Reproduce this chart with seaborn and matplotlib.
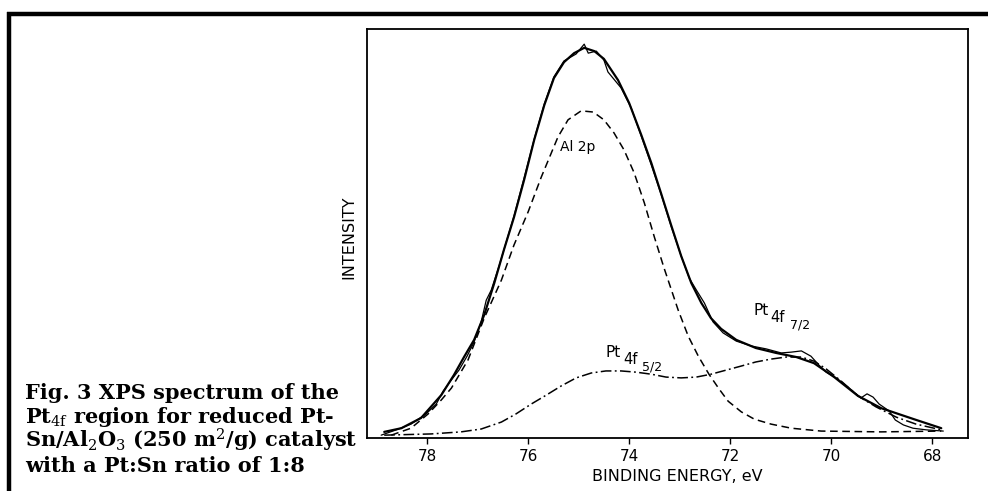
import numpy as np
import pandas as pd
import matplotlib
matplotlib.use("Agg")
import matplotlib.pyplot as plt
from matplotlib.lines import Line2D
import seaborn as sns

# ---------------- data (binding energy in eV, intensity in arbitrary units) ----------------
fit_energy = [78.85, 78.51, 78.12, 77.72, 77.47, 77.27, 77.07, 76.87, 76.67, 76.48, 76.28,
              76.08, 75.88, 75.68, 75.49, 75.29, 75.09, 74.89, 74.69, 74.50, 74.22, 74.00,
              73.76, 73.56, 73.37, 73.17, 72.97, 72.77, 72.57, 72.38, 72.18, 71.88, 71.49,
              71.09, 70.69, 70.34, 69.94, 69.47, 69.01, 68.36, 67.82]
fit_intensity = [1.5, 2.4, 4.9, 10.5, 15.4, 19.8, 24.0, 30.1, 37.9, 46.0, 54.0,
                 63.1, 72.9, 81.4, 88.0, 91.9, 94.1, 95.4, 94.6, 92.7, 87.5, 81.9,
                 74.1, 67.2, 59.9, 52.1, 44.5, 37.9, 33.0, 29.3, 26.7, 24.0, 22.0,
                 20.8, 19.8, 18.3, 14.9, 10.3, 7.3, 4.6, 2.4]

raw_energy = [78.91, 78.61, 78.32, 78.02, 77.82, 77.68, 77.52, 77.37, 77.21, 77.07, 76.93,
              76.83, 76.73, 76.57, 76.28, 76.08, 75.88, 75.68, 75.49, 75.29, 75.05, 74.89,
              74.81, 74.65, 74.50, 74.42, 74.32, 74.16, 73.96, 73.76, 73.56, 73.37, 73.17,
              72.97, 72.81, 72.67, 72.51, 72.34, 72.14, 71.88, 71.58, 71.29, 70.99, 70.79,
              70.59, 70.40, 70.24, 70.10, 69.90, 69.64, 69.41, 69.29, 69.17, 69.05, 68.85,
              68.73, 68.57, 68.38, 68.12, 67.78]
raw_intensity = [0.7, 2.0, 3.4, 5.9, 8.3, 11.5, 14.2, 16.6, 20.0, 23.5, 28.4,
                 33.7, 36.2, 42.3, 54.3, 63.6, 73.1, 81.7, 88.3, 92.2, 93.9, 96.3,
                 94.1, 94.6, 92.4, 89.5, 88.0, 85.6, 80.7, 73.8, 66.7, 59.7, 51.8,
                 44.5, 39.1, 36.2, 33.0, 28.4, 25.7, 23.7, 22.5, 21.8, 20.8, 21.0,
                 21.3, 20.0, 17.8, 16.1, 14.7, 12.2, 9.8, 10.8, 10.0, 8.3, 6.6,
                 4.4, 3.2, 2.4, 2.0, 1.7]

al2p_energy = [78.71, 78.32, 77.98, 77.72, 77.52, 77.19, 76.87, 76.53, 76.28, 76.00, 75.74,
               75.41, 75.21, 74.95, 74.71, 74.50, 74.30, 74.10, 73.90, 73.70, 73.50, 73.31,
               73.03, 72.83, 72.63, 72.42, 72.22, 72.04, 71.78, 71.52, 71.19, 70.79, 70.20,
               69.01, 67.82]
al2p_intensity = [0.7, 2.4, 5.9, 9.3, 12.2, 19.1, 29.3, 38.6, 47.2, 55.3, 63.8,
                  73.6, 77.8, 80.0, 79.7, 77.8, 74.6, 70.4, 64.8, 57.5, 49.1, 41.6,
                  31.3, 24.9, 20.0, 15.6, 12.0, 9.0, 6.4, 4.6, 3.4, 2.4, 1.7,
                  1.5, 1.7]

pt4f_energy = [78.85, 77.92, 77.33, 76.93, 76.53, 76.24, 75.94, 75.64, 75.35, 75.05, 74.75,
               74.46, 74.16, 73.86, 73.56, 73.27, 72.97, 72.67, 72.38, 72.08, 71.78, 71.49,
               71.19, 70.89, 70.59, 70.34, 70.10, 69.80, 69.47, 69.11, 68.71, 68.32, 67.82]
pt4f_intensity = [0.7, 1.0, 1.5, 2.2, 3.9, 5.9, 8.3, 10.5, 12.7, 14.7, 15.9,
                  16.4, 16.4, 16.1, 15.6, 14.9, 14.7, 14.9, 15.6, 16.6, 17.6, 18.6,
                  19.3, 19.8, 19.8, 18.8, 16.9, 13.9, 10.3, 7.6, 5.1, 3.4, 2.0]

energy_ticks = [78, 76, 74, 72, 70, 68]

caption_lines = [
    "Fig. 3 XPS spectrum of the",
    r"Pt$_{4\mathrm{f}}$ region for reduced Pt-",
    r"Sn/Al$_2$O$_3$ (250 m$^2$/g) catalyst",
    "with a Pt:Sn ratio of 1:8",
]

# ---------------- style ----------------
sns.set_theme(style="white")
plt.rcParams["font.family"] = ["DejaVu Sans"]
plt.rcParams["mathtext.fontset"] = "dejavusans"

fig = plt.figure(figsize=(9.88, 4.91), dpi=100)
fig.patch.set_facecolor("white")
ax = fig.add_axes([0.3715, 0.1079, 0.6083, 0.8330])
ax.set_facecolor("white")

raw_df = pd.DataFrame({"E": raw_energy, "I": raw_intensity})
fit_df = pd.DataFrame({"E": fit_energy, "I": fit_intensity})
al_df = pd.DataFrame({"E": al2p_energy, "I": al2p_intensity})
pt_df = pd.DataFrame({"E": pt4f_energy, "I": pt4f_intensity})

sns.lineplot(data=raw_df, x="E", y="I", ax=ax, color="black", lw=0.9,
             estimator=None, sort=False)
sns.lineplot(data=fit_df, x="E", y="I", ax=ax, color="black", lw=1.6,
             estimator=None, sort=False)
sns.lineplot(data=al_df, x="E", y="I", ax=ax, color="black", lw=1.1,
             linestyle=(0, (5, 3)), estimator=None, sort=False)
sns.lineplot(data=pt_df, x="E", y="I", ax=ax, color="black", lw=1.1,
             linestyle=(0, (7, 2.2, 1.2, 2.2)), estimator=None, sort=False)

ax.set_xlim(79.19, 67.29)
ax.set_ylim(0, 100)
ax.set_xticks(energy_ticks)
ax.set_xticklabels([str(t) for t in energy_ticks])
ax.set_yticks([])
ax.tick_params(axis="x", direction="out", length=4, width=1.0, colors="black",
               labelsize=11, pad=4, bottom=True)
for s in ax.spines.values():
    s.set_visible(True)
    s.set_color("black")
    s.set_linewidth(1.3)

ax.set_xlabel("BINDING ENERGY, eV", fontsize=11.5, color="black")
ax.xaxis.set_label_coords(0.517, -0.075)
ax.set_ylabel("INTENSITY", fontsize=11.5, color="black")
ax.yaxis.set_label_coords(-0.018, 0.49)

ax.text(75.01, 71.1, "Al 2p", fontsize=10, ha="center", va="center", color="black")


def peak_label(e, i, sub1, sub2):
    kw = dict(xy=(e, i), textcoords="offset points", ha="left", va="baseline",
              color="black")
    ax.annotate("Pt", xytext=(0, 0), fontsize=11, **kw)
    ax.annotate(sub1, xytext=(12.5, -5), fontsize=10.5, **kw)
    ax.annotate(sub2, xytext=(26, -10), fontsize=9, **kw)


peak_label(71.54, 30.1, "4f", "7/2")
peak_label(74.46, 19.8, "4f", "5/2")

# caption
caption_y = [0.1874, 0.1375, 0.0876, 0.0377]
with plt.rc_context({"mathtext.fontset": "dejavuserif", "mathtext.default": "bf"}):
    for txt, yy in zip(caption_lines, caption_y):
        fig.text(0.0253, yy, txt, fontsize=15, family="DejaVu Serif",
                 fontweight="bold", ha="left", va="baseline", color="black")

# page frame lines
fig.add_artist(Line2D([0.007, 1.0], [0.9725, 0.9725], lw=3.2, color="black",
                      transform=fig.transFigure, solid_capstyle="butt"))
fig.add_artist(Line2D([0.0092, 0.0092], [0.0, 0.9755], lw=3.2, color="black",
                      transform=fig.transFigure, solid_capstyle="butt"))

fig.savefig("out.png", dpi=100, facecolor="white")
